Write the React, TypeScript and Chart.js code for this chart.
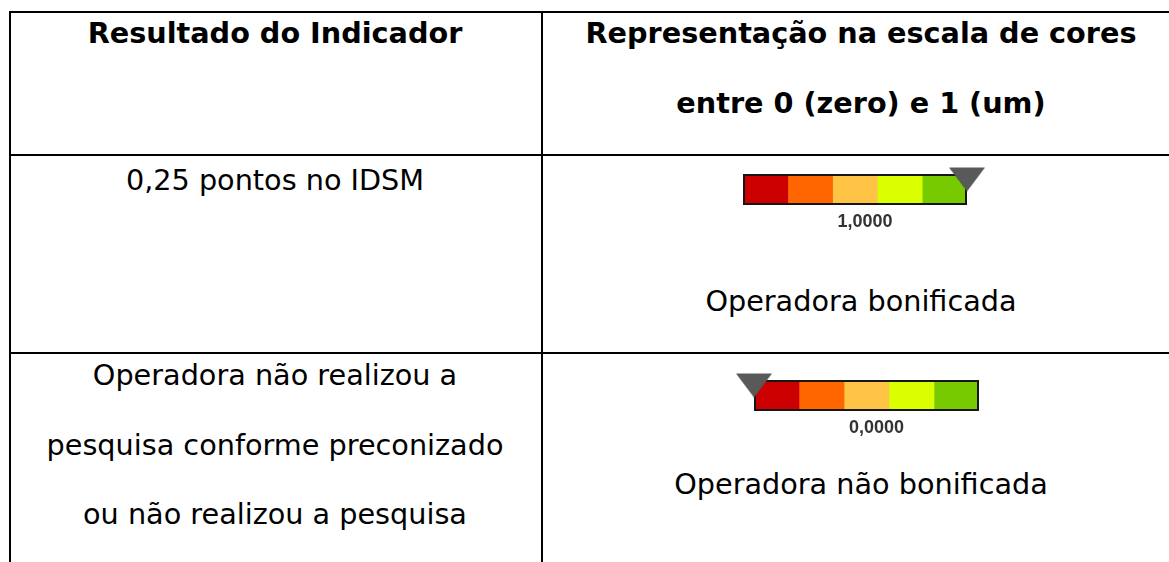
import React, { useEffect, useRef } from "react";
import { Chart, registerables } from "chart.js";

Chart.register(...registerables);

// ---------- data ----------
const HEADER_LEFT = ["Resultado do Indicador"];
const HEADER_RIGHT = ["Representação na escala de cores", "entre 0 (zero) e 1 (um)"];
const RESULT_ROW1 = ["0,25 pontos no IDSM"];
const RESULT_ROW2 = ["Operadora não realizou a", "pesquisa conforme preconizado", "ou não realizou a pesquisa"];
const CAPTIONS = ["Operadora bonificada", "Operadora não bonificada"];
const GAUGE_VALUES = [1.0, 0.0];
const SCALE_BANDS = [0.2, 0.2, 0.2, 0.2, 0.2];
const BAND_COLORS = ["#CC0000", "#FF6600", "#FFC445", "#DAFF00", "#77CA00"];
const SCALE_CATEGORY = ["Escala"];

// ---------- layout ----------
const W = 1169;
const H = 562;
const FONT = "'DejaVu Sans', Verdana, sans-serif";
const TEXT_SIZE = 28.7;
const LINE_BOX = 36;
const LEFT_CX = 275;
const RIGHT_CX = 861;
const MID_X = 541;
const PITCH = 69.5;

const formatValue = (v: number) => v.toFixed(4).replace(".", ",");

function makeMarker(): HTMLCanvasElement {
  const c = document.createElement("canvas");
  c.width = 36;
  c.height = 50;
  const ctx = c.getContext("2d")!;
  ctx.fillStyle = "#595959";
  ctx.beginPath();
  ctx.moveTo(0, 3);
  ctx.lineTo(36, 3);
  ctx.lineTo(18, 27);
  ctx.closePath();
  ctx.fill();
  return c;
}

const G_PAD_X = 24;
const G_PAD_TOP = 14;
const G_BAR = 31;
const G_CANVAS_H = 80;
const LABEL_DX = 10;
const LABEL_DY = 17;

const gaugeDecor = {
  id: "gaugeDecor",
  beforeDatasetDraw(chart: any, args: any) {
    if (args.meta.type !== "scatter") return;
    const first = chart.getDatasetMeta(0).data[0];
    const last = chart.getDatasetMeta(SCALE_BANDS.length - 1).data[0];
    if (!first || !last) return;
    const a = first.getProps(["x", "y", "base", "height"], true);
    const b = last.getProps(["x"], true);
    const ctx = chart.ctx;
    ctx.save();
    ctx.strokeStyle = "#161616";
    ctx.lineWidth = 2;
    ctx.strokeRect(a.base + 1, a.y - a.height / 2 + 1, b.x - a.base - 2, a.height - 2);
    ctx.restore();
  },
  afterDraw(chart: any, _args: any, opts: any) {
    const ctx = chart.ctx;
    const area = chart.chartArea;
    const xs = chart.scales.x;
    const cx = (xs.getPixelForValue(xs.min) + xs.getPixelForValue(xs.max)) / 2;
    ctx.save();
    ctx.fillStyle = "#333333";
    ctx.font = "bold 18px 'Liberation Sans', Arial, sans-serif";
    ctx.textAlign = "center";
    ctx.textBaseline = "middle";
    ctx.fillText(opts.text, cx + LABEL_DX, area.bottom + LABEL_DY);
    ctx.restore();
  },
};

function Gauge({ value, left, top, width }: { value: number; left: number; top: number; width: number }) {
  const ref = useRef<HTMLCanvasElement>(null);
  useEffect(() => {
    if (!ref.current) return;
    const datasets: any[] = SCALE_BANDS.map((w, i) => ({
      type: "bar",
      data: [w],
      backgroundColor: BAND_COLORS[i],
      borderWidth: 0,
      barThickness: G_BAR,
      stack: "scale",
    }));
    datasets.push({
      type: "scatter",
      data: [{ x: value, y: SCALE_CATEGORY[0] }],
      pointStyle: makeMarker(),
      pointRadius: 10,
      pointHoverRadius: 10,
      clip: false,
      order: -1,
    });
    const chart = new Chart(ref.current, {
      type: "bar",
      data: { labels: SCALE_CATEGORY, datasets },
      plugins: [gaugeDecor],
      options: {
        indexAxis: "y",
        animation: false,
        responsive: false,
        events: [],
        layout: {
          padding: { left: G_PAD_X, right: G_PAD_X, top: G_PAD_TOP, bottom: G_CANVAS_H - G_PAD_TOP - G_BAR },
        },
        plugins: {
          legend: { display: false },
          tooltip: { enabled: false },
          gaugeDecor: { text: formatValue(value) },
        },
        scales: {
          x: { type: "linear", min: 0, max: 1, stacked: true, display: false },
          y: { type: "category", labels: SCALE_CATEGORY, stacked: true, display: false },
        },
      } as any,
    });
    return () => chart.destroy();
  }, [value]);
  return (
    <canvas
      ref={ref}
      width={width + 2 * G_PAD_X}
      height={G_CANVAS_H}
      style={{ position: "absolute", left: left - G_PAD_X, top: top - G_PAD_TOP, width: width + 2 * G_PAD_X, height: G_CANVAS_H }}
    />
  );
}

function Line({ x, y, w, h }: { x: number; y: number; w: number; h: number }) {
  return <div style={{ position: "absolute", left: x, top: y, width: w, height: h, background: "#000" }} />;
}

function Text({ cx, cy, text, bold }: { cx: number; cy: number; text: string; bold?: boolean }) {
  return (
    <div
      style={{
        position: "absolute",
        left: cx - 350,
        width: 700,
        top: cy - LINE_BOX / 2,
        height: LINE_BOX,
        lineHeight: LINE_BOX + "px",
        textAlign: "center",
        fontFamily: FONT,
        fontSize: TEXT_SIZE,
        fontWeight: bold ? "bold" : "normal",
        color: "#000",
        whiteSpace: "nowrap",
      }}
    >
      {text}
    </div>
  );
}

export default function App() {
  return (
    <div style={{ position: "absolute", left: 0, top: 0, width: W, height: H, background: "#fff", overflow: "hidden" }}>
      <Line x={9} y={11} w={W} h={2} />
      <Line x={9} y={11} w={2} h={H} />
      <Line x={MID_X} y={11} w={2} h={H} />
      <Line x={9} y={154} w={W} h={2} />
      <Line x={9} y={352} w={W} h={2} />

      {HEADER_LEFT.map((t, i) => (
        <Text key={"hl" + i} cx={LEFT_CX} cy={33 + i * PITCH} text={t} bold />
      ))}
      {HEADER_RIGHT.map((t, i) => (
        <Text key={"hr" + i} cx={RIGHT_CX} cy={33 + i * PITCH} text={t} bold />
      ))}
      {RESULT_ROW1.map((t, i) => (
        <Text key={"r1" + i} cx={LEFT_CX} cy={180 + i * PITCH} text={t} />
      ))}
      {RESULT_ROW2.map((t, i) => (
        <Text key={"r2" + i} cx={LEFT_CX} cy={375 + i * PITCH} text={t} />
      ))}
      <Text cx={RIGHT_CX} cy={301} text={CAPTIONS[0]} />
      <Text cx={RIGHT_CX} cy={484} text={CAPTIONS[1]} />

      <Gauge value={GAUGE_VALUES[0]} left={743} top={174} width={224} />
      <Gauge value={GAUGE_VALUES[1]} left={754} top={380} width={225} />
    </div>
  );
}
